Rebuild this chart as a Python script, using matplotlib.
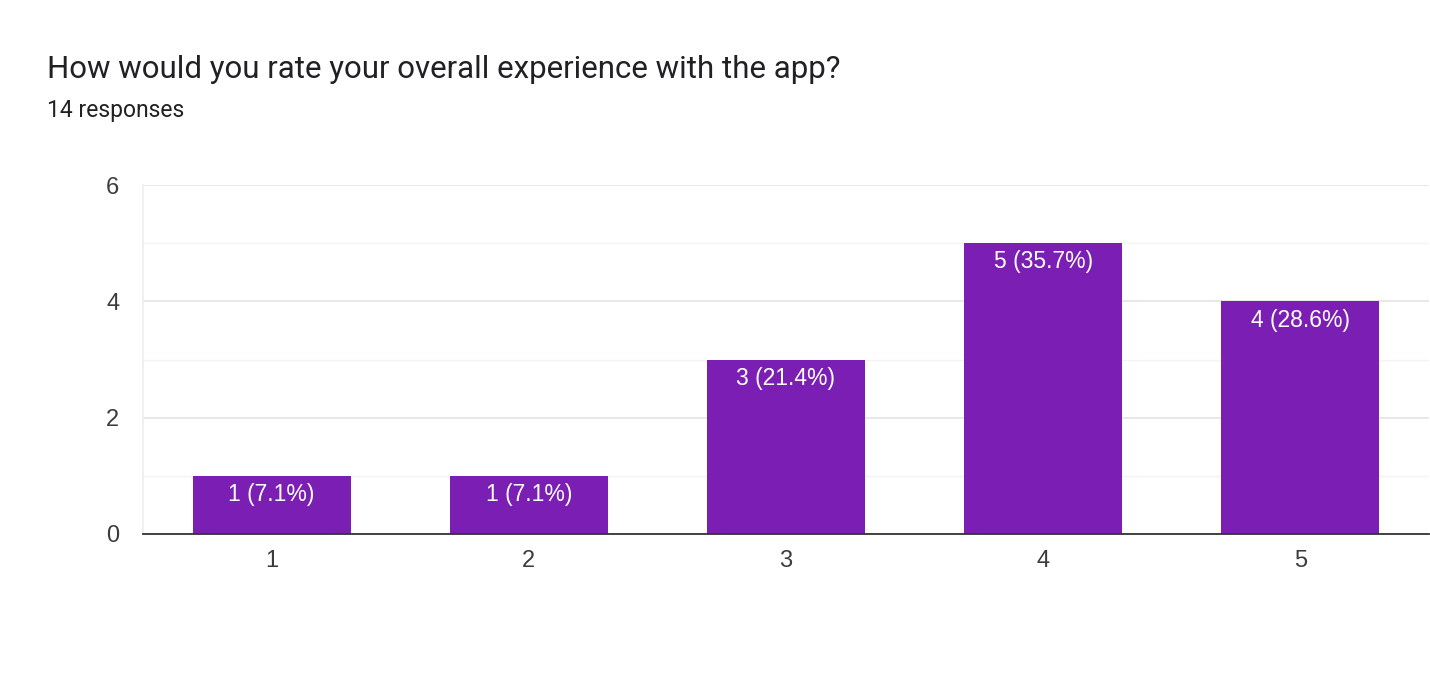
import matplotlib
matplotlib.use("Agg")
import matplotlib.pyplot as plt
from matplotlib.ticker import MultipleLocator

categories = ["1", "2", "3", "4", "5"]
counts = [1, 1, 3, 5, 4]
labels = ["1 (7.1%)", "1 (7.1%)", "3 (21.4%)", "5 (35.7%)", "4 (28.6%)"]
title = "How would you rate your overall experience with the app?"
subtitle = "14 responses"

plt.rcParams['font.family'] = ['Liberation Sans', 'DejaVu Sans']

fig = plt.figure(figsize=(14.3, 6.8), dpi=100)
ax = fig.add_axes([143/1430, 1-534/680, (1429-143)/1430, (534-185)/680])

x = list(range(len(categories)))
bars = ax.bar(x, counts, width=0.615, color="#7B1FB4", zorder=3)
for xi, c, lab in zip(x, counts, labels):
    ax.annotate(lab, (xi, c), xytext=(0, -13.5), textcoords="offset points",
                ha="center", va="center", color="white", fontsize=16.5, zorder=4)

ax.set_xlim(-0.5, 4.5)
ax.set_ylim(0, 6)
ax.set_xticks(x)
ax.set_xticklabels(categories)
ax.yaxis.set_major_locator(MultipleLocator(2))
ax.yaxis.set_minor_locator(MultipleLocator(1))
ax.grid(axis="y", which="major", color="#E6E6E6", linewidth=1.3, zorder=0)
ax.grid(axis="y", which="minor", color="#F3F3F3", linewidth=1.0, zorder=0)
ax.tick_params(axis="both", which="both", length=0, labelsize=17, colors="#3C3C3C")
ax.tick_params(axis="x", pad=11.5)
ax.tick_params(axis="y", pad=17)
for side in ["top", "right"]:
    ax.spines[side].set_visible(False)
ax.spines["left"].set_color("#EEEEEE")
ax.spines["left"].set_linewidth(1.2)
ax.spines["bottom"].set_color("#333333")
ax.spines["bottom"].set_linewidth(1.3)
ax.spines["bottom"].set_zorder(5)

fig.text(47/1430, 1-70/680, title, fontsize=22.5, color="#202124", va="center", ha="left",
         family=['Roboto', 'DejaVu Sans'])
fig.text(47/1430, 1-111/680, subtitle, fontsize=16.5, color="#202124", va="center", ha="left",
         family=['Roboto', 'DejaVu Sans'])

fig.savefig("out.png", dpi=100)
